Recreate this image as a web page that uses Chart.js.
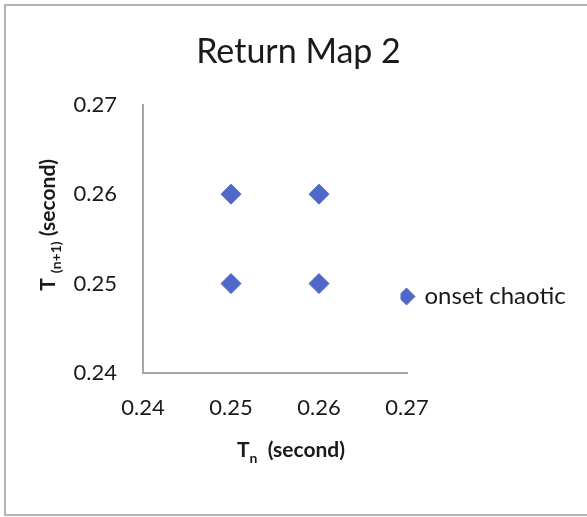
<!DOCTYPE html>
<html>
<head>
<meta charset="utf-8">
<script src="https://cdn.jsdelivr.net/npm/chart.js@4/dist/chart.umd.min.js"></script>
<style>
  html, body { margin: 0; padding: 0; background: #fff; overflow: hidden; }
  #frame { position: absolute; left: 4px; top: 4px; width: 600px; height: 512px;
           border: 2px solid #b4b4b4; box-sizing: border-box; }
  #wrap { position: absolute; left: 0; top: 0; width: 587px; height: 517px; }
</style>
</head>
<body>
<div id="frame"></div>
<div id="wrap"><canvas id="chart"></canvas></div>
<script>
// Return map: period T(n) against the next period T(n+1)
const seriesName = 'onset chaotic';
const tN      = [0.25, 0.25, 0.26, 0.26];
const tNext   = [0.25, 0.26, 0.25, 0.26];
const xTicks  = [0.24, 0.25, 0.26, 0.27];
const yTicks  = [0.24, 0.25, 0.26, 0.27];
const chartTitle = 'Return Map 2';
const xTitle = [{ text: 'T' }, { text: 'n', sub: true }, { text: '  (second)' }];
const yTitle = [{ text: 'T ' }, { text: '(n+1)', sub: true }, { text: ' (second)' }];

const FONT = 'Lato, "Open Sans", sans-serif';
const MARK = '#4f67c8';
const PAD_LEFT = 50;
const PAD_RIGHT = 40;

// Draws axis titles that contain subscripts
const richTitles = {
  id: 'richTitles',
  afterDraw(chart, args, opts) {
    const { ctx, chartArea: a } = chart;
    const big = `bold ${opts.size}px ${FONT}`;
    const small = `bold ${opts.subSize}px ${FONT}`;
    const measure = segs => segs.reduce((w, s) => {
      ctx.font = s.sub ? small : big;
      return w + ctx.measureText(s.text).width;
    }, 0);
    const drawRun = (segs, x, y) => {
      let cx = x;
      segs.forEach(s => {
        ctx.font = s.sub ? small : big;
        ctx.fillText(s.text, cx, y + (s.sub ? opts.subShift : 0));
        cx += ctx.measureText(s.text).width;
      });
    };
    ctx.save();
    ctx.fillStyle = opts.color;
    ctx.textBaseline = 'alphabetic';
    ctx.textAlign = 'left';
    // horizontal title under the x axis
    const wx = measure(opts.x);
    drawRun(opts.x, (a.left + a.right) / 2 + opts.xShift - wx / 2, a.bottom + opts.xGap);
    // rotated title beside the y axis
    const wy = measure(opts.y);
    ctx.translate(a.left - opts.yGap, (a.top + a.bottom) / 2 + opts.yShift);
    ctx.rotate(-Math.PI / 2);
    drawRun(opts.y, -wy / 2, 0);
    ctx.restore();
  }
};

// Lets the legend sit slightly over the right end of the x axis, lower down
const legendNudge = {
  id: 'legendNudge',
  afterLayout(chart, args, opts) {
    const lg = chart.legend;
    if (!lg) return;
    lg.left -= opts.dx;
    lg.right = chart.width;
    lg.width = lg.right - lg.left;
    lg.top += opts.dy;
    lg.bottom += opts.dy;
  }
};

new Chart(document.getElementById('chart'), {
  type: 'scatter',
  data: {
    datasets: [{
      label: seriesName,
      data: tN.map((x, i) => ({ x, y: tNext[i] })),
      pointStyle: 'rectRot',
      pointRadius: 10,
      pointHoverRadius: 10,
      backgroundColor: MARK,
      borderColor: MARK,
      borderWidth: 1
    }]
  },
  options: {
    responsive: true,
    maintainAspectRatio: false,
    animation: false,
    layout: { padding: { top: 8, left: PAD_LEFT, right: PAD_RIGHT, bottom: 26 } },
    plugins: {
      title: {
        display: true, text: chartTitle, color: '#1a1a1a',
        font: { family: FONT, size: 34, weight: 'normal' },
        padding: { top: 24, bottom: 32 }
      },
      legend: {
        display: true, position: 'right', align: 'center', maxWidth: 140,
        labels: {
          usePointStyle: true, boxWidth: 12, boxHeight: 12, padding: 0,
          color: '#1a1a1a', font: { family: FONT, size: 24 }
        }
      },
      tooltip: { enabled: false },
      legendNudge: { dx: 6.5, dy: 47 },
      richTitles: {
        x: xTitle, y: yTitle, size: 21, subSize: 14, subShift: 6, color: '#1a1a1a',
        xGap: 84, xShift: 16, yGap: 88, yShift: -14
      }
    },
    scales: {
      x: {
        type: 'linear', min: xTicks[0], max: xTicks[xTicks.length - 1],
        afterBuildTicks: s => { s.ticks = xTicks.map(v => ({ value: v })); },
        afterFit: s => { s.height = 118; },
        grid: { display: false, drawTicks: false },
        border: { display: true, color: '#a6a6a6', width: 2 },
        ticks: { padding: 22, color: '#1a1a1a', font: { family: FONT, size: 22 },
                 callback: v => v.toFixed(2) }
      },
      y: {
        type: 'linear', min: yTicks[0], max: yTicks[yTicks.length - 1],
        afterBuildTicks: s => { s.ticks = yTicks.map(v => ({ value: v })); },
        afterFit: s => { s.width = 143 - PAD_LEFT; },
        grid: { display: false, drawTicks: false },
        border: { display: true, color: '#a6a6a6', width: 2 },
        ticks: { padding: 26, color: '#1a1a1a', font: { family: FONT, size: 22 },
                 callback: v => v.toFixed(2) }
      }
    }
  },
  plugins: [richTitles, legendNudge]
});
</script>
</body>
</html>
